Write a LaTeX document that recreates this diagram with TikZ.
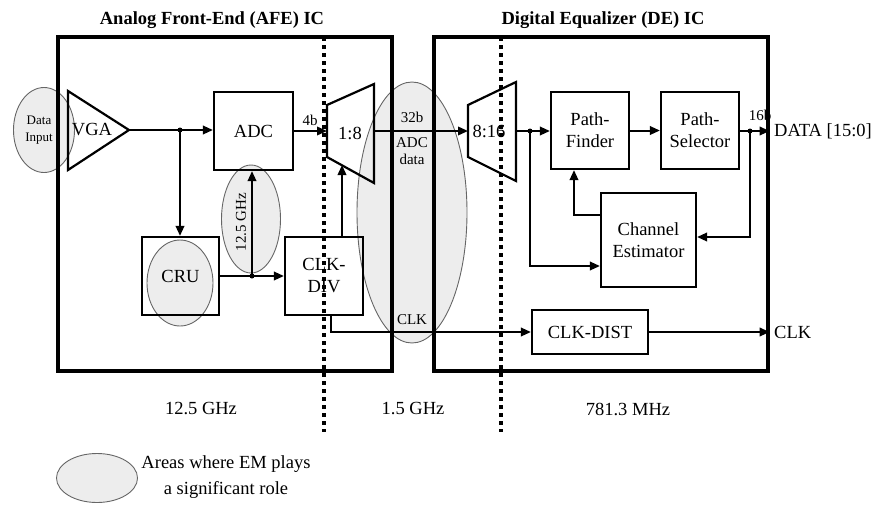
\documentclass[tikz,border=0pt]{standalone}
\usepackage{fontspec}
\setmainfont{Liberation Serif}
\usepackage{tikz}
\usetikzlibrary{shapes.geometric,arrows.meta}

\begin{document}
\begin{tikzpicture}
[every node/.style={inner sep=0pt, font=\fontsize{18.5}{22}\selectfont},
 em/.style={ellipse, draw=black!60, line width=0.9pt, fill=black!7},
 chip/.style={rectangle, draw=black, line width=3.2pt},
 blk/.style={rectangle, draw=black, line width=2.2pt, align=center},
 wire/.style={line width=2pt, draw=black},
 arr/.style={wire, -{Triangle[length=10pt,width=8.5pt]}},
 dot/.style={circle, fill=black, minimum size=5pt},
 small/.style={font=\fontsize{15}{17}\selectfont, align=center},
 title/.style={font=\fontsize{18.5}{22}\selectfont\bfseries},
 divider/.style={line width=3.5pt, dash pattern=on 4pt off 4pt}]
\useasboundingbox (0pt,0pt) rectangle (879pt,-504pt);
\node (emdata) [em, minimum width=61pt, minimum height=85pt] at (44pt,-130pt) {};
\node (emcru) [em, minimum width=66pt, minimum height=86pt] at (180pt,-283pt) {};
\node (emclk) [em, minimum width=59pt, minimum height=108pt] at (251pt,-219pt) {};
\node (embus) [em, minimum width=110pt, minimum height=261pt] at (412pt,-212.5pt) {};
\node (afe) [chip, minimum width=334pt, minimum height=334pt] at (225pt,-204pt) {};
\node (de) [chip, minimum width=334pt, minimum height=334pt] at (601pt,-204pt) {};
\node (afetitle) [title] at (212pt,-20pt) {Analog Front-End (AFE) IC};
\node (detitle) [title] at (603pt,-20pt) {Digital Equalizer (DE) IC};
\node (datain) [font=\fontsize{13}{17}\selectfont, align=center] at (39pt,-130pt) {Data\\Input};
\coordinate (vgatip) at (129pt,-130pt);
\draw [line width=2.2pt] (68pt,-91pt) -- (68pt,-170pt) -- (vgatip) -- cycle;
\node (vga) at (92pt,-130pt) {VGA};
\node (adc) [blk, minimum width=79pt, minimum height=78pt] at (253.5pt,-131pt) {ADC};
\node (cru) [blk, minimum width=77pt, minimum height=78pt] at (180.5pt,-276pt) {CRU};
\node (clkdiv) [blk, minimum width=78pt, minimum height=78pt] at (324pt,-276pt) {CLK-\\DIV};
\coordinate (m1in) at (327pt,-131pt);
\coordinate (m1out) at (374pt,-131pt);
\coordinate (m1sel) at (342pt,-165pt);
\draw [line width=2.2pt] (327pt,-105pt) -- (374pt,-84pt) -- (374pt,-183pt) -- (327pt,-157pt) -- cycle;
\node (mux1) at (350pt,-133pt) {1:8};
\coordinate (m2in) at (468pt,-131pt);
\coordinate (m2out) at (516pt,-131pt);
\draw [line width=2.2pt] (468pt,-105pt) -- (516pt,-82pt) -- (516pt,-181pt) -- (468pt,-157pt) -- cycle;
\node (mux2) at (489pt,-131pt) {8:16};
\node (pf) [blk, minimum width=78pt, minimum height=77pt] at (590pt,-130.5pt) {Path-\\Finder};
\node (ps) [blk, minimum width=78pt, minimum height=77pt] at (700pt,-130.5pt) {Path-\\Selector};
\node (ce) [blk, minimum width=95pt, minimum height=94pt] at (648.5pt,-240pt) {Channel\\Estimator};
\node (cd) [blk, minimum width=116pt, minimum height=44pt] at (590pt,-332pt) {CLK-DIST};
\node (j1) [dot] at (180pt,-130pt) {};
\node (j2) [dot] at (252pt,-276pt) {};
\node (j3) [dot] at (530pt,-131pt) {};
\node (j4) [dot] at (750pt,-131pt) {};
\coordinate (cebot) at (530pt,-266pt);
\coordinate (ceret) at (750pt,-237pt);
\coordinate (cefb) at (574pt,-215pt);
\coordinate (clkbend) at (331pt,-332pt);
\draw [arr] (vgatip) -- (vgatip -| adc.west);
\draw [arr] (j1.center) -- (j1 |- cru.north);
\draw [arr] (cru.east |- j2) -- (j2 -| clkdiv.west);
\draw [arr] (j2.center) -- (j2 |- adc.south);
\draw [arr] (adc.east) -- (m1in);
\draw [arr] (m1sel |- clkdiv.north) -- (m1sel);
\draw [arr] (m1out) -- (m2in);
\draw [arr] (clkbend |- clkdiv.south) -- (clkbend) -- (cd.west);
\draw [arr] (m2out) -- (m2out -| pf.west);
\draw [arr] (j3.center) |- (cebot -| ce.west);
\draw [arr] (pf.east) -- (pf.east -| ps.west);
\draw [arr] (ps.east |- j4) -- (j4 -| de.east);
\draw [arr] (j4.center) |- (ceret -| ce.east);
\draw [arr] (cefb -| ce.west) -| (cefb |- pf.south);
\draw [arr] (cd.east) -- (cd.east -| de.east);
\node (l4b) [small] at (310pt,-120pt) {4b};
\node (l32b) [small] at (412pt,-117pt) {32b};
\node (ladc) [small] at (412pt,-151pt) {ADC\\data};
\node (lclk) [small] at (412pt,-320pt) {CLK};
\node (l16b) [small] at (760pt,-115pt) {16b};
\node (lghz) [font=\fontsize{15}{18}\selectfont, rotate=90] at (241pt,-222pt) {12.5 GHz};
\node (dataout) [anchor=west] at (774pt,-131pt) {DATA [15:0]};
\node (clkout) [anchor=west] at (774pt,-332pt) {CLK};
\draw [divider] (324pt,-37pt) -- (324pt,-432pt);
\draw [divider] (501pt,-37pt) -- (501pt,-432pt);
\node (f1) at (201pt,-409pt) {12.5 GHz};
\node (f2) at (413pt,-409pt) {1.5 GHz};
\node (f3) at (628pt,-409pt) {781.3 MHz};
\node (legem) [em, minimum width=81pt, minimum height=49pt] at (97pt,-478pt) {};
\node (legtxt) [font=\fontsize{18.5}{26}\selectfont, align=center] at (226pt,-477pt) {Areas where EM plays\\a significant role};
\end{tikzpicture}
\end{document}
